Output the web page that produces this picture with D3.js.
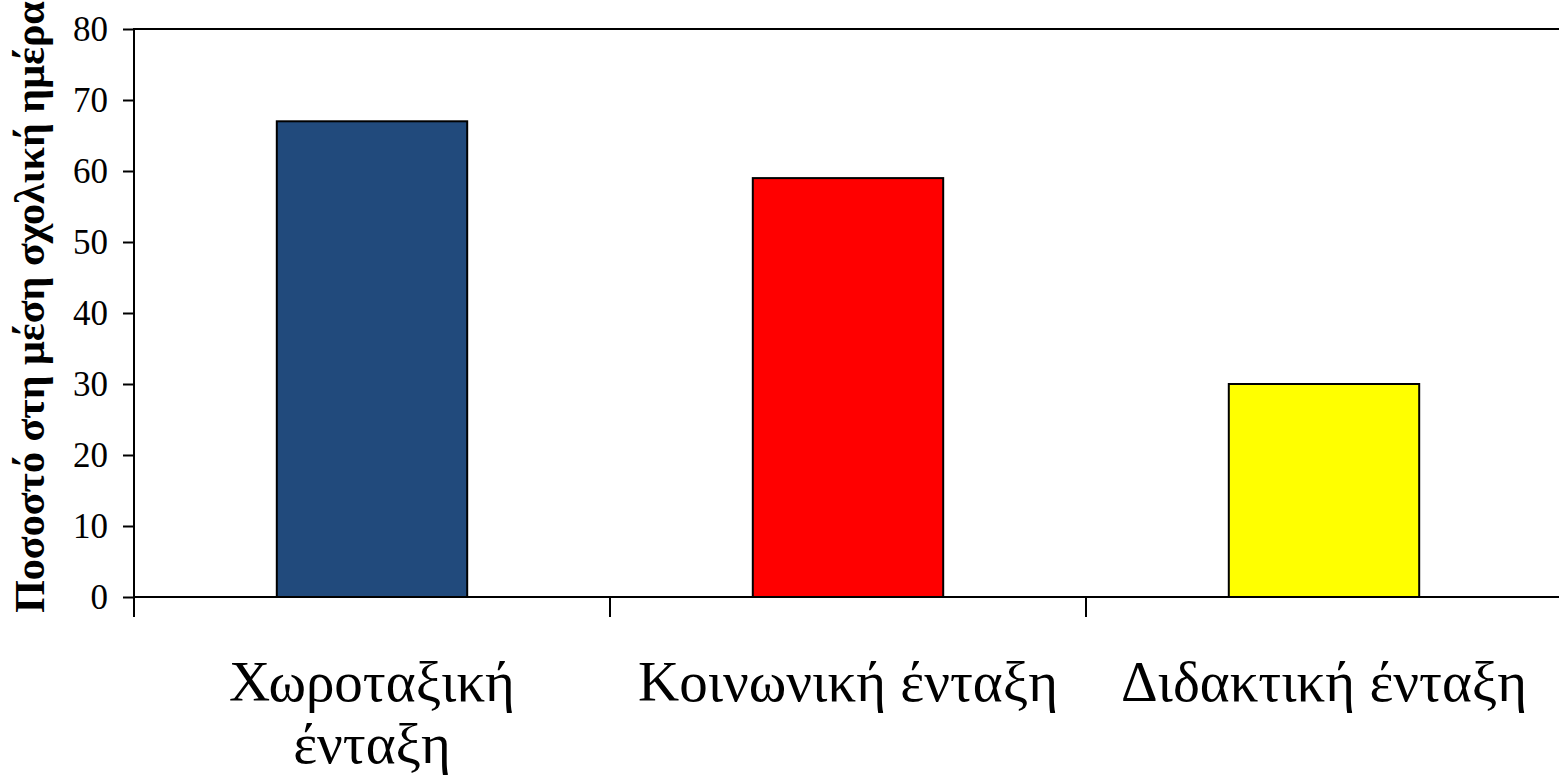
<!DOCTYPE html>
<html>
<head>
<meta charset="utf-8">
<script src="https://cdn.jsdelivr.net/npm/d3@7"></script>
<style>
  html, body { margin: 0; padding: 0; background: #fff; overflow: hidden; }
  svg text { font-family: "Liberation Serif", "Times New Roman", serif; fill: #000; }
</style>
</head>
<body>
<svg id="chart" width="1559" height="783"></svg>
<script>
// data
var categories = ['Χωροταξική ένταξη', 'Κοινωνική ένταξη', 'Διδακτική ένταξη'];
var labelLines = [['Χωροταξική', 'ένταξη'], ['Κοινωνική ένταξη'], ['Διδακτική ένταξη']];
var values = [67, 59, 30];
var colors = ['#214a7c', '#ff0000', '#ffff00'];
var yTicks = [0, 10, 20, 30, 40, 50, 60, 70, 80];
var yTitle = 'Ποσοστό στη μέση σχολική ημέρα';

(function () {
    var svg = d3.select('#chart');
    var pLeft = 134, pRight = 1562, pTop = 29, pBottom = 597;

    var x = d3.scaleBand()
        .domain(categories)
        .range([pLeft, pRight])
        .paddingInner(0.6)
        .paddingOuter(0.3);

    var y = d3.scaleLinear()
        .domain([0, 80])
        .range([pBottom, pTop]);

    // plot frame (right side falls off the canvas)
    svg.append('rect')
        .attr('x', pLeft).attr('y', pTop)
        .attr('width', pRight - pLeft).attr('height', pBottom - pTop)
        .attr('fill', 'none')
        .attr('stroke', '#000')
        .attr('stroke-width', 2);

    // bars
    svg.append('g')
      .selectAll('rect')
        .data(values)
      .enter().append('rect')
        .attr('x', function (d, i) { return x(categories[i]); })
        .attr('y', function (d) { return y(d); })
        .attr('width', x.bandwidth())
        .attr('height', function (d) { return y(0) - y(d); })
        .attr('fill', function (d, i) { return colors[i]; })
        .attr('stroke', '#000')
        .attr('stroke-width', 2);

    // y axis
    var yAxis = svg.append('g')
        .attr('transform', 'translate(' + pLeft + ',0)')
        .call(d3.axisLeft(y).tickValues(yTicks).tickSize(11).tickPadding(15));
    yAxis.select('.domain').attr('stroke-width', 2).attr('d', 'M0,' + pTop + 'V' + (pBottom + 20));
    yAxis.selectAll('.tick line').attr('stroke-width', 2);
    yAxis.selectAll('.tick text')
        .style('font-family', '"Liberation Serif", serif')
        .style('font-size', '35px')
        .attr('dy', '0.34em');

    // x axis with category boundary ticks
    var step = x.step();
    var bounds = d3.range(categories.length + 1).map(function (i) { return pLeft + i * step; });
    var xAxis = svg.append('g');
    xAxis.append('line')
        .attr('x1', pLeft).attr('x2', pRight)
        .attr('y1', pBottom).attr('y2', pBottom)
        .attr('stroke', '#000').attr('stroke-width', 2);
    xAxis.selectAll('line.b')
        .data(bounds)
      .enter().append('line')
        .attr('class', 'b')
        .attr('x1', function (d) { return d; }).attr('x2', function (d) { return d; })
        .attr('y1', pBottom).attr('y2', pBottom + 20)
        .attr('stroke', '#000').attr('stroke-width', 2);

    // category labels
    var lab = svg.append('g').selectAll('text')
        .data(categories)
      .enter().append('text')
        .attr('text-anchor', 'middle')
        .style('font-size', '57px')
        .attr('x', function (d) { return x(d) + x.bandwidth() / 2; })
        .attr('y', 701);
    lab.selectAll('tspan')
        .data(function (d, i) { return labelLines[i]; })
      .enter().append('tspan')
        .attr('x', function () { return d3.select(this.parentNode).attr('x'); })
        .attr('dy', function (d, i) { return i === 0 ? 0 : 62; })
        .text(function (d) { return d; });

    // y title
    svg.append('text')
        .attr('transform', 'translate(44,307) rotate(-90)')
        .attr('text-anchor', 'middle')
        .style('font-size', '42px')
        .style('font-weight', 'bold')
        .text(yTitle);
})();
</script>
</body>
</html>
